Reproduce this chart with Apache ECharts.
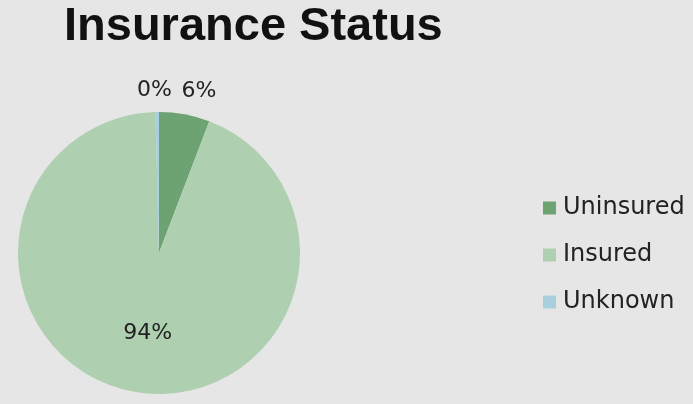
<!DOCTYPE html>
<html>
<head>
<meta charset="utf-8">
<script src="https://cdn.jsdelivr.net/npm/echarts@6/dist/echarts.min.js"></script>
<style>
  html, body { margin: 0; padding: 0; background: #e6e6e6; }
  #chart { width: 693px; height: 404px; }
</style>
</head>
<body>
<div id="chart"></div>
<script>
// insurance status shares (percent)
var categories = ["Uninsured", "Insured", "Unknown"];
var values = [5.8, 93.8, 0.4];
var colors = ["#6da373", "#aed0b0", "#a8d0dc"];
var labelPos = ["outside", "inside", "outside"];
// small nudges so the labels sit where the original puts them
var labelShift = [[-12, -1], [1, 8], [20, 0]];

var dom = document.getElementById("chart");
var myChart = echarts.init(dom, null, { renderer: "canvas" });

var pieData = categories.map(function (name, i) {
  return {
    name: name,
    value: values[i],
    itemStyle: { color: colors[i] },
    label: { position: labelPos[i] }
  };
});

var option = {
  backgroundColor: "#e6e6e6",
  animation: false,
  title: {
    text: "Insurance Status",
    left: 64,
    top: 4,
    padding: 0,
    textStyle: {
      fontFamily: "Liberation Sans",
      fontWeight: "bold",
      fontSize: 47,
      color: "#111"
    }
  },
  legend: {
    orient: "vertical",
    left: 538,
    top: 191,
    itemWidth: 13,
    itemHeight: 13,
    itemGap: 23,
    icon: "rect",
    textStyle: {
      fontFamily: "DejaVu Sans",
      fontSize: 24,
      color: "#222",
      padding: [0, 0, 0, 2]
    },
    data: categories
  },
  series: [
    {
      type: "pie",
      center: [159, 253],
      radius: [0, 141],
      startAngle: 90,
      clockwise: true,
      avoidLabelOverlap: false,
      data: pieData,
      label: {
        formatter: function (p) { return Math.round(p.percent) + "%"; },
        fontFamily: "DejaVu Sans",
        fontSize: 22,
        color: "#222"
      },
      labelLine: { show: false, length: 22, length2: 0 },
      labelLayout: function (params) {
        var s = labelShift[params.dataIndex];
        return { dx: s[0], dy: s[1] };
      },
      emphasis: { disabled: true }
    }
  ]
};

myChart.setOption(option);
window.addEventListener("resize", myChart.resize);
</script>
</body>
</html>
